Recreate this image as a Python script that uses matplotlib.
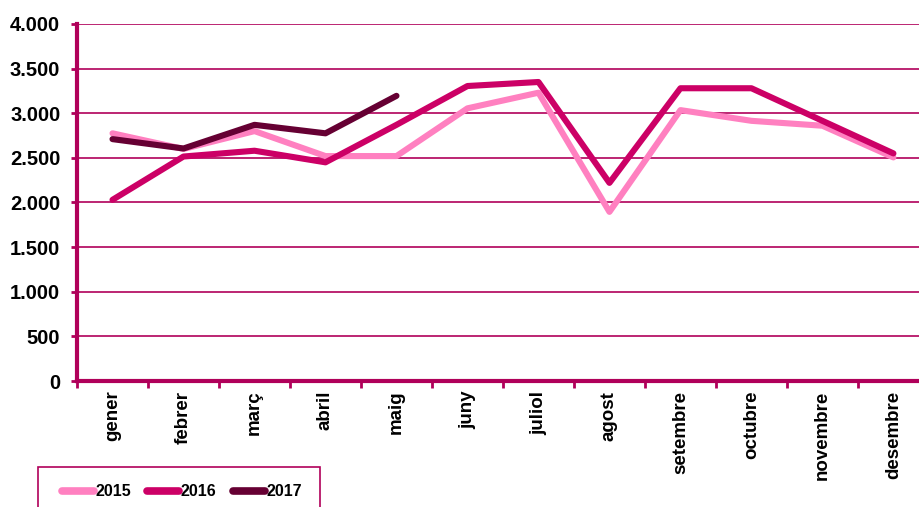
import matplotlib
matplotlib.use('Agg')
import matplotlib.pyplot as plt
from matplotlib.patches import Rectangle

# monthly values
months = ['gener', 'febrer', 'març', 'abril', 'maig', 'juny', 'juliol',
          'agost', 'setembre', 'octubre', 'novembre', 'desembre']
vals_2015 = [2775, 2600, 2800, 2520, 2520, 3055, 3230, 1895, 3035, 2915, 2860, 2505]
vals_2016 = [2030, 2515, 2580, 2450, 2870, 3305, 3350, 2220, 3280, 3280, 2915, 2550]
vals_2017 = [2710, 2605, 2870, 2775, 3195]
yticks = [0, 500, 1000, 1500, 2000, 2500, 3000, 3500, 4000]

plt.rcParams['font.family'] = ['Liberation Sans', 'DejaVu Sans']
plt.rcParams['font.weight'] = 'bold'

magenta = '#B0005A'

fig = plt.figure(figsize=(9.2, 5.07), dpi=100)
ax = fig.add_axes([0.0837, 0.2485, 0.926, 0.7042])

x = list(range(len(months)))
ax.plot(x, vals_2015, color='#FF80C0', lw=4.4, label='2015', solid_capstyle='round')
ax.plot(x, vals_2016, color='#CC0066', lw=4.4, label='2016', solid_capstyle='round')
ax.plot(x[:len(vals_2017)], vals_2017, color='#660033', lw=4.4, label='2017', solid_capstyle='round')

ax.set_xlim(-0.5, len(months) - 0.5)
ax.set_ylim(0, 4000)
ax.set_yticks(yticks)
ax.set_yticklabels([f'{v:,}'.replace(',', '.') for v in yticks], fontsize=14.5, fontweight='bold')
ax.yaxis.grid(True, color=magenta, lw=1.2)
ax.set_axisbelow(True)

# ticks at category edges, labels at centers
ax.set_xticks([i - 0.5 for i in range(len(months) + 1)])
ax.set_xticklabels([])
ax.set_xticks(x, minor=True)
ax.set_xticklabels(months, minor=True, rotation=90, fontsize=13.5, fontweight='bold', va='top')
ax.tick_params(axis='x', which='major', direction='out', length=5, width=2, color=magenta)
ax.tick_params(axis='x', which='minor', length=0, pad=7)
ax.tick_params(axis='y', direction='out', length=4, width=2, color=magenta, pad=8)

for side in ['top', 'right']:
    ax.spines[side].set_visible(False)
for side in ['left', 'bottom']:
    ax.spines[side].set_color(magenta)
    ax.spines[side].set_linewidth(3)

# legend box runs off the bottom of the figure
fig.patches.append(Rectangle((38 / 920, -0.05), 282 / 920, 0.05 + 40 / 507,
                             transform=fig.transFigure, fill=False,
                             edgecolor=magenta, lw=1.2))
leg = fig.legend(loc='center', bbox_to_anchor=(182 / 920, 1 - 492 / 507), ncol=3,
                 frameon=False, handlelength=2.0, handletextpad=0.1,
                 columnspacing=1.0, borderaxespad=0,
                 prop={'weight': 'bold', 'size': 11.5})
for line in leg.get_lines():
    line.set_linewidth(5.5)

fig.savefig('out.png', dpi=100)
